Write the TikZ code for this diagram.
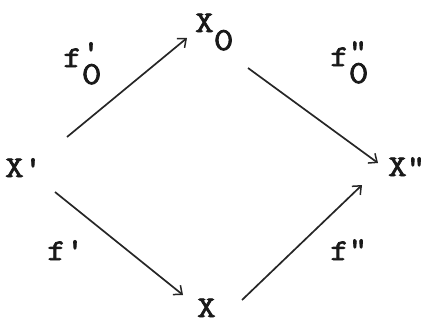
\documentclass[tikz,border=0pt]{standalone}
\usepackage{fontspec}
\setmonofont{Latin Modern Mono}[FakeBold=2.5,FakeStretch=1.2]
\usetikzlibrary{arrows.meta}
\newcommand{\zr}{{\fontsize{32}{32}\selectfont 0}}
\begin{document}
\begin{tikzpicture}[x=1pt,y=-1pt,
  lbl/.style={anchor=base west,inner sep=0pt,font=\ttfamily\fontsize{30}{30}\selectfont,text=black!90},
  arr/.style={line width=1.7pt,draw=black!85,-{Straight Barb[length=7pt,width=12pt,line width=1.5pt]}}]
\useasboundingbox (0,0) rectangle (425,324);
\node[lbl] (xp) at (5,177) {X'};
\node[lbl] (x0) at (195,32) {X\raisebox{-18pt}{\zr}};
\node[lbl] (xpp) at (388,176) {X"};
\node[lbl] (xb) at (197,317) {X};
\node[lbl] (f0p) at (63,67) {f\rlap{\raisebox{-17pt}{\zr}}\raisebox{6pt}{'}};
\node[lbl] (f0pp) at (330,66) {f\rlap{\raisebox{-17pt}{\zr}}\raisebox{6pt}{"}};
\node[lbl] (fp) at (47,260) {f\raisebox{1pt}{'}};
\node[lbl] (fpp) at (330,260) {f\raisebox{2pt}{"}};
\draw[arr] ([shift={(62,-40)}]xp.base west) -- ([shift={(-8,6)}]x0.base west);
\draw[arr] ([shift={(53,36)}]x0.base west) -- ([shift={(-10,-13)}]xpp.base west);
\draw[arr] ([shift={(50,15)}]xp.base west) -- ([shift={(-14,-22)}]xb.base west);
\draw[arr] ([shift={(45,-17)}]xb.base west) -- ([shift={(-26,9)}]xpp.base west);
\end{tikzpicture}
\end{document}
